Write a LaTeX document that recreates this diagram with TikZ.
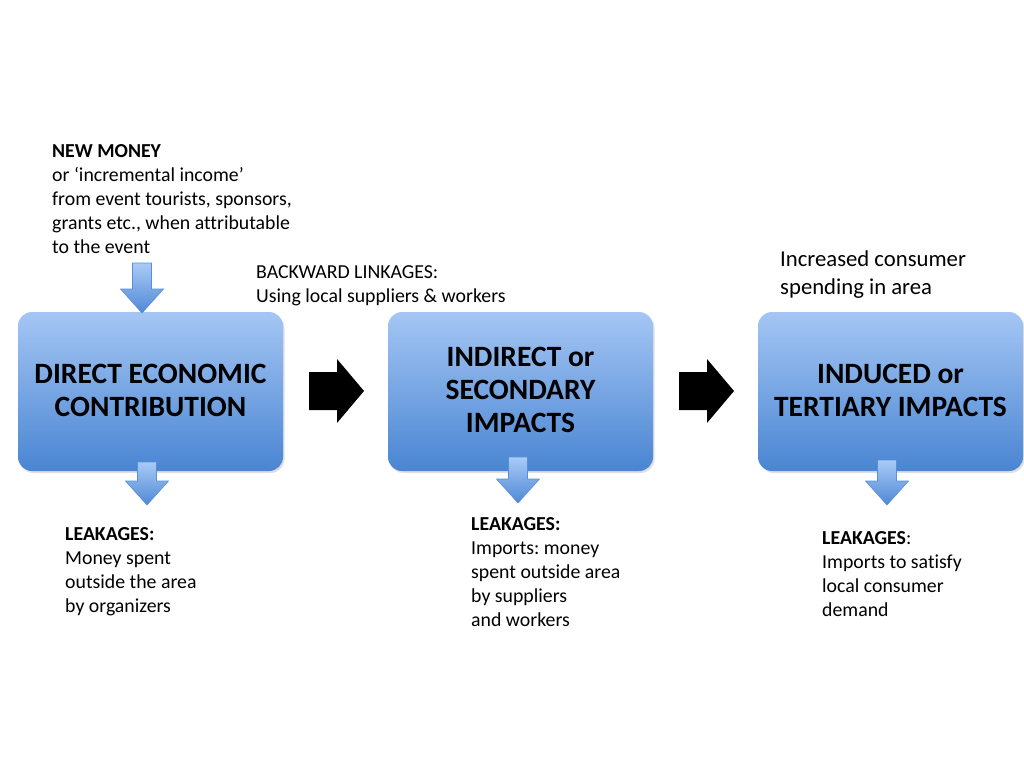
\documentclass[tikz,border=0pt]{standalone}
\usepackage{fontspec}
\setmainfont{Carlito}[Ligatures=NoCommon]
\frenchspacing
\usetikzlibrary{calc,shadows}
\definecolor{boxtop}{HTML}{A4C6F4}
\definecolor{boxbot}{HTML}{4A85D2}
\definecolor{arrtop}{HTML}{A9CBF6}
\definecolor{arrbot}{HTML}{4F88D6}
\definecolor{arredge}{HTML}{5A8ED8}
\tikzset{
  impactbox/.style={rounded corners=14pt, top color=boxtop, bottom color=boxbot,
    drop shadow={opacity=0.25, shadow xshift=1.5pt, shadow yshift=-2pt}},
  boxtext/.style={align=center, inner sep=0pt, font=\fontsize{29.5}{33}\selectfont\bfseries},
  note/.style={align=left, anchor=north west, inner sep=0pt, font=\fontsize{19.8}{24}\selectfont},
  bignote/.style={align=left, anchor=north west, inner sep=0pt, font=\fontsize{22.7}{28}\selectfont},
  bluearrow/.style={top color=arrtop, bottom color=arrbot, draw=arredge, line width=0.6pt, line join=miter},
  blackarrow/.style={fill=black}
}
\newcommand\myblue[2]{\path[bluearrow] (#1) ++(-9.5,0) -- ++(19,0) -- ++(0,{#2-24}) -- ++(12,0) -- ++(-21.5,24) -- ++(-21.5,-24) -- ++(12,0) -- cycle;}
\newcommand\myblack[1]{\path[blackarrow] (#1) ++(-27,-19) -- ++(28,0) -- ++(0,-13) -- ++(27,32) -- ++(-27,32) -- ++(0,-13) -- ++(-28,0) -- cycle;}
\begin{document}
\begin{tikzpicture}[x=1pt,y=-1pt]
\useasboundingbox[fill=white] (0,0) rectangle (1024,768);
% boxes
\path[impactbox] (18,312) rectangle (283,471);
\path[impactbox] (388,312) rectangle (653,471);
\path[impactbox] (758,312) rectangle (1023,471);
\node[boxtext] (b1) at (150.5,390.5) {DIRECT ECONOMIC\\CONTRIBUTION};
\node[boxtext] (b2) at (520.5,390) {INDIRECT or\\SECONDARY\\IMPACTS};
\node[boxtext] (b3) at (890.5,390.5) {INDUCED or\\TERTIARY IMPACTS};
% texts
\node[note] (newmoney) at (52,144) {\textbf{NEW MONEY}\\or ‘incremental income’\\from event tourists, sponsors,\\grants etc., when attributable\\to the event};
\node[note] (backward) at (256,265) {BACKWARD LINKAGES:\\Using local suppliers \& workers};
\node[bignote] (consumer) at (780,251) {Increased consumer\\spending in area};
\node[note] (leak1) at (65,527) {\textbf{LEAKAGES:}\\Money spent\\outside the area\\by organizers};
\node[note] (leak2) at (471,517) {\textbf{LEAKAGES:}\\Imports: money\\spent outside area\\by suppliers\\and workers};
\node[note] (leak3) at (822,531) {\textbf{LEAKAGES}:\\Imports to satisfy\\local consumer\\demand};
% connectors
\coordinate (a0) at (142,263);
\coordinate (a1) at (147,462);
\coordinate (a2) at (518,457);
\coordinate (a3) at (887,460);
\coordinate (m1) at (336,391);
\coordinate (m2) at (706,391);
\myblue{a0}{50}
\myblue{a1}{43}
\myblue{a2}{46}
\myblue{a3}{45}
\myblack{m1}
\myblack{m2}
\end{tikzpicture}
\end{document}
